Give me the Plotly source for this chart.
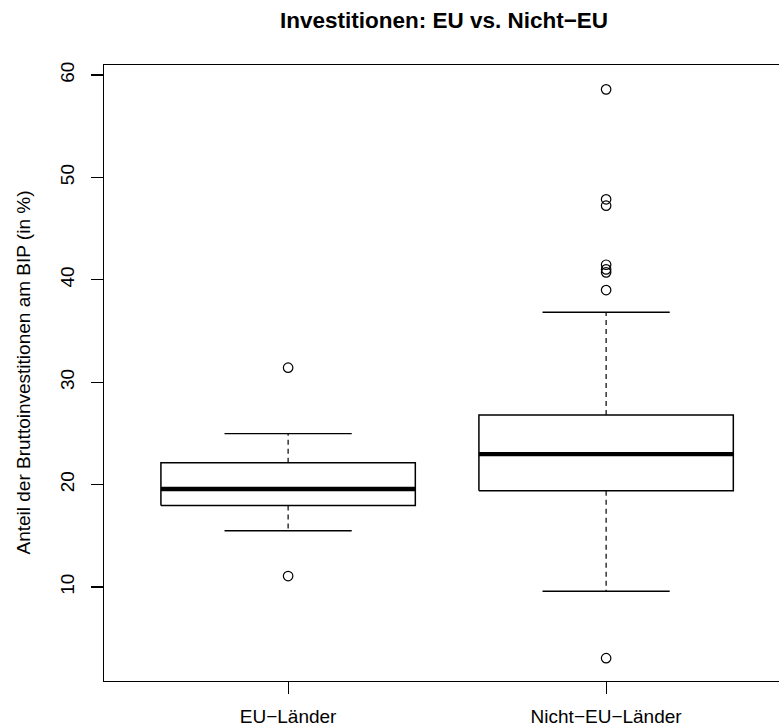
import plotly.graph_objects as go

# ---- data ----
groups = ["EU−Länder", "Nicht−EU−Länder"]
positions = [1, 2]
q1 = [17.95, 19.41]
median = [19.57, 22.97]
q3 = [22.14, 26.80]
lower_whisker = [15.50, 9.58]
upper_whisker = [24.98, 36.83]
outliers = [
    [31.42, 11.07],
    [58.60, 47.86, 47.24, 41.47, 41.02, 40.73, 39.00, 3.05],
]
y_ticks = [10, 20, 30, 40, 50, 60]

title = "Investitionen: EU vs. Nicht−EU"
y_title = "Anteil der Bruttoinvestitionen am BIP (in %)"

FONT = "Liberation Sans, Arial, Helvetica, sans-serif"
BOX_HALF = 0.4
CAP_HALF = 0.2

# The reference's plot frame runs past the right edge of the 779 px page,
# so the figure is made slightly wider and the page clips it.
FIG_W = 790
PLOT_W = FIG_W - 104

fig = go.Figure()

for i, c in enumerate(positions):
    # dashed whiskers
    fig.add_trace(go.Scatter(
        x=[c, c, None, c, c],
        y=[q3[i], upper_whisker[i], None, q1[i], lower_whisker[i]],
        mode="lines", line=dict(color="black", width=1.2, dash="5px,4px"),
        hoverinfo="skip", showlegend=False))
    # whisker caps
    fig.add_trace(go.Scatter(
        x=[c - CAP_HALF, c + CAP_HALF, None, c - CAP_HALF, c + CAP_HALF],
        y=[upper_whisker[i], upper_whisker[i], None, lower_whisker[i], lower_whisker[i]],
        mode="lines", line=dict(color="black", width=1.4),
        hoverinfo="skip", showlegend=False))
    # box
    fig.add_trace(go.Scatter(
        x=[c - BOX_HALF, c + BOX_HALF, c + BOX_HALF, c - BOX_HALF, c - BOX_HALF],
        y=[q1[i], q1[i], q3[i], q3[i], q1[i]],
        mode="lines", line=dict(color="black", width=1.5),
        fill="toself", fillcolor="white",
        hoverinfo="skip", showlegend=False))
    # median
    fig.add_trace(go.Scatter(
        x=[c - BOX_HALF, c + BOX_HALF],
        y=[median[i], median[i]],
        mode="lines", line=dict(color="black", width=4.3),
        hoverinfo="skip", showlegend=False))
    # outliers
    fig.add_trace(go.Scatter(
        x=[c] * len(outliers[i]), y=outliers[i],
        mode="markers",
        marker=dict(symbol="circle-open", size=9.5, color="black", line=dict(width=1.2)),
        showlegend=False))

fig.update_layout(
    width=FIG_W, height=728,
    margin=dict(l=104, r=0, t=65, b=47),
    paper_bgcolor="white", plot_bgcolor="white",
    font=dict(family=FONT, size=19, color="black"),
    showlegend=False,
    hovermode=False,
    title=dict(text="<b>" + title + "</b>", x=(444 - 104) / PLOT_W, xref="paper",
               xanchor="center", y=1 - 20 / 728, yref="container", yanchor="middle",
               font=dict(size=22.5, family=FONT, color="black")),
)

fig.update_xaxes(
    range=[0.421, 0.421 + PLOT_W / 318],
    tickmode="array", tickvals=positions, ticktext=groups,
    showgrid=False, zeroline=False,
    showline=True, linecolor="black", linewidth=1.3, mirror=True,
    ticks="outside", ticklen=12, tickwidth=1.2, tickcolor="black",
    ticklabelstandoff=6, automargin=False,
    tickfont=dict(size=19, family=FONT, color="black"),
)
fig.update_yaxes(
    range=[0.82, 60.98],
    tickmode="array", tickvals=y_ticks, ticktext=[str(v) for v in y_ticks],
    tickangle=-90,
    showgrid=False, zeroline=False,
    showline=True, linecolor="black", linewidth=1.3, mirror=True,
    ticks="outside", ticklen=12, tickwidth=1.2, tickcolor="black",
    ticklabelstandoff=9, automargin=False,
    tickfont=dict(size=19, family=FONT, color="black"),
)

fig.add_annotation(
    text=y_title, textangle=-90,
    xref="paper", yref="paper", x=(22.5 - 104) / PLOT_W, y=0.5,
    xanchor="center", yanchor="middle", showarrow=False,
    font=dict(size=19, family=FONT, color="black"),
)

fig.write_html(
    "out.html",
    config={"displayModeBar": False, "staticPlot": True},
    post_script="document.documentElement.style.overflow='hidden';"
                "document.body.style.margin='0';document.body.style.padding='0';"
                "document.body.style.overflow='hidden';",
)
